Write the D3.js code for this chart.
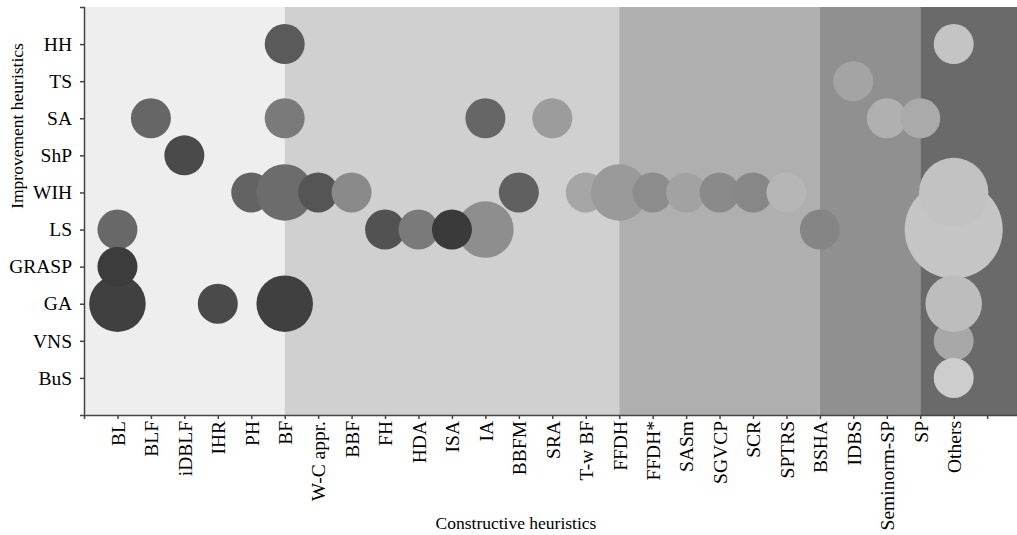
<!DOCTYPE html>
<html>
<head>
<meta charset="utf-8">
<script src="https://cdn.jsdelivr.net/npm/d3@7"></script>
<style>
  body { margin: 0; background: #fff; }
  svg { display: block; }
  .axis text { font-family: 'Liberation Serif', serif; font-size: 19.5px; fill: #000; }
  .axis path, .axis line { stroke: #444; stroke-width: 1.5px; }
  .title { font-family: 'Liberation Serif', serif; font-size: 17.5px; fill: #000; }
</style>
</head>
<body>
<svg width="1017" height="535"></svg>
<script>
'use strict';

// constructive heuristics (x axis), index 1..26; 27 is an empty tick
const constructive = ['BL', 'BLF', 'iDBLF', 'IHR', 'PH', 'BF', 'W-C appr.', 'BBF', 'FH', 'HDA', 'ISA', 'IA',
  'BBFM', 'SRA', 'T-w BF', 'FFDH', 'FFDH*', 'SASm', 'SGVCP', 'SCR', 'SPTRS', 'BSHA', 'IDBS', 'Seminorm-SP',
  'SP', 'Others']

// improvement heuristics (y axis), bottom to top
const improvement = ['BuS', 'VNS', 'GA', 'GRASP', 'LS', 'WIH', 'ShP', 'SA', 'TS', 'HH']

// background groups: [from tick, to tick, grey]
const groups = [
  [0, 6, '#eeeeee'],
  [6, 16, '#d0d0d0'],
  [16, 22, '#afafaf'],
  [22, 25, '#909090'],
  [25, 28, '#6a6a6a']
]

// bubbles: [constructive, improvement, count, grey] in drawing order
const bubbles = [
  ['BL', 'LS', 1, '#686868'],
  ['BL', 'GA', 2, '#404040'],
  ['BL', 'GRASP', 1, '#3c3c3c'],
  ['BLF', 'SA', 1, '#666666'],
  ['iDBLF', 'ShP', 1, '#4a4a4a'],
  ['IHR', 'GA', 1, '#4a4a4a'],
  ['PH', 'WIH', 1, '#636363'],
  ['BF', 'HH', 1, '#5a5a5a'],
  ['BF', 'SA', 1, '#7a7a7a'],
  ['BF', 'WIH', 2, '#6c6c6c'],
  ['BF', 'GA', 2, '#404040'],
  ['W-C appr.', 'WIH', 1, '#555555'],
  ['BBF', 'WIH', 1, '#8a8a8a'],
  ['FH', 'LS', 1, '#525252'],
  ['IA', 'LS', 2, '#8e8e8e'],
  ['HDA', 'LS', 1, '#7a7a7a'],
  ['ISA', 'LS', 1, '#3a3a3a'],
  ['IA', 'SA', 1, '#666666'],
  ['BBFM', 'WIH', 1, '#606060'],
  ['SRA', 'SA', 1, '#9c9c9c'],
  ['T-w BF', 'WIH', 1, '#a6a6a6'],
  ['FFDH', 'WIH', 2, '#9a9a9a'],
  ['FFDH*', 'WIH', 1, '#8c8c8c'],
  ['SASm', 'WIH', 1, '#a2a2a2'],
  ['SGVCP', 'WIH', 1, '#8a8a8a'],
  ['SCR', 'WIH', 1, '#878787'],
  ['SPTRS', 'WIH', 1, '#b6b6b6'],
  ['BSHA', 'LS', 1, '#858585'],
  ['IDBS', 'TS', 1, '#a4a4a4'],
  ['Seminorm-SP', 'SA', 1, '#b0b0b0'],
  ['SP', 'SA', 1, '#aaaaaa'],
  ['Others', 'HH', 1, '#c4c4c4'],
  ['Others', 'LS', 6, '#c5c5c5'],
  ['Others', 'WIH', 3, '#c2c2c2'],
  ['Others', 'VNS', 1, '#a8a8a8'],
  ['Others', 'GA', 2, '#bdbdbd'],
  ['Others', 'BuS', 1, '#cdcdcd']
]

const svg = d3.select('svg')

const x = d3.scaleLinear().domain([0, 28]).range([84, 84 + 28 * 33.45])
const y = d3.scaleLinear().domain([0, 11]).range([415, 7])
const r = d3.scaleSqrt().domain([0, 6]).range([0, 49])

const xi = (name) => constructive.indexOf(name) + 1
const yi = (name) => improvement.indexOf(name) + 1

// background bands
svg.append('g').selectAll('rect')
  .data(groups)
  .enter()
  .append('rect')
  .attr('x', (d) => x(d[0]))
  .attr('width', (d) => x(d[1]) - x(d[0]))
  .attr('y', y(11))
  .attr('height', y(0) - y(11))
  .style('fill', (d) => d[2])

// bubbles
svg.append('g').selectAll('circle')
  .data(bubbles)
  .enter()
  .append('circle')
  .attr('cx', (d) => x(xi(d[0])))
  .attr('cy', (d) => y(yi(d[1])))
  .attr('r', (d) => r(d[2]))
  .style('fill', (d) => d[3])

// axes
const xAxis = d3.axisBottom(x)
  .tickValues(d3.range(1, 28))
  .tickFormat((i) => constructive[i - 1] || '')
  .tickSize(4)
  .tickSizeOuter(4)

svg.append('g').attr('class', 'axis')
  .attr('transform', `translate(0,${y(0)})`)
  .call(xAxis)
  .selectAll('text')
  .attr('transform', 'rotate(-90)')
  .attr('text-anchor', 'end')
  .attr('x', -6)
  .attr('y', 0)
  .attr('dy', '0.35em')

const yAxis = d3.axisLeft(y)
  .tickValues(d3.range(1, 11))
  .tickFormat((i) => improvement[i - 1])
  .tickSize(4)
  .tickSizeOuter(4)
  .tickPadding(8)

svg.append('g').attr('class', 'axis')
  .attr('transform', `translate(${x(0)},0)`)
  .call(yAxis)

svg.selectAll('.axis .domain').style('fill', 'none')

// titles
svg.append('text').attr('class', 'title')
  .attr('x', 516)
  .attr('y', 529)
  .attr('text-anchor', 'middle')
  .text('Constructive heuristics')

svg.append('text').attr('class', 'title')
  .attr('transform', 'translate(23,126) rotate(-90)')
  .attr('text-anchor', 'middle')
  .text('Improvement heuristics')
</script>
</body>
</html>
